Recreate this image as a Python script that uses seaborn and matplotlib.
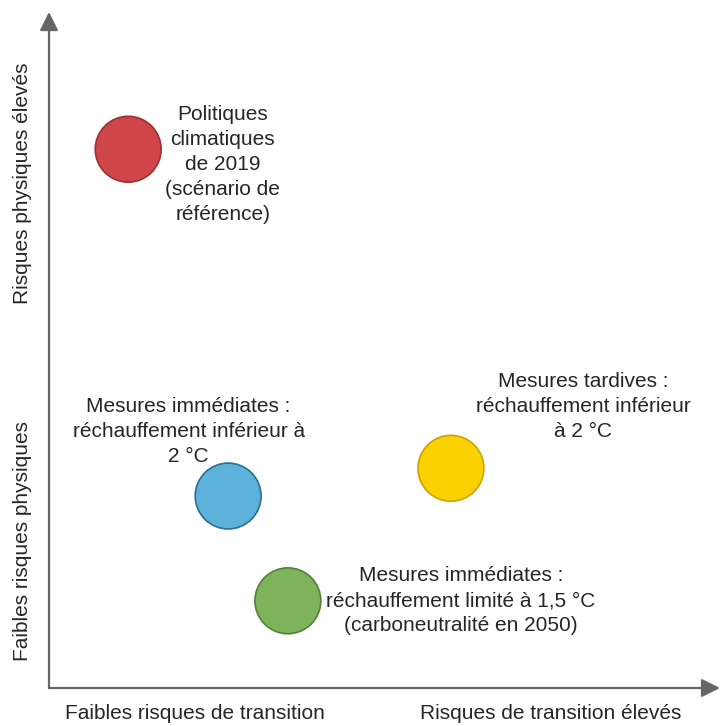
import matplotlib
matplotlib.use("Agg")
import matplotlib.pyplot as plt
import seaborn as sns
import pandas as pd

# ---- data ----
scenarios = [
    "Politiques\nclimatiques\nde 2019\n(scénario de\nréférence)",
    "Mesures immédiates :\nréchauffement inférieur à\n2 °C",
    "Mesures tardives :\nréchauffement inférieur\nà 2 °C",
    "Mesures immédiates :\nréchauffement limité à 1,5 °C\n(carboneutralité en 2050)",
]
transition_risk = [1.18, 2.67, 5.99, 3.56]
physical_risk = [7.97, 2.84, 3.25, 1.29]
fill_colors = ["#CF4548", "#5DB2DB", "#FDD100", "#7DB35A"]
edge_colors = ["#9E2F33", "#2C6E93", "#C9A400", "#557F3A"]
x_labels = ["Faibles risques de transition", "Risques de transition élevés"]
y_labels = ["Faibles risques physiques", "Risques physiques élevés"]

# label offsets (data units) relative to each point
label_dx = [1.41, -0.59, 1.97, 2.58]
label_dy = [-0.22, 0.95, 0.91, 0.0]

df = pd.DataFrame({"x": transition_risk, "y": physical_risk, "scenario": scenarios})

sns.set_style("white")
plt.rcParams["font.family"] = ["Liberation Sans", "DejaVu Sans"]

FS = 15
TXT = "#262626"

fig = plt.figure(figsize=(7.22, 7.26), dpi=100)
ax = fig.add_axes([49 / 722, 38 / 726, (720 - 49) / 722, (688 - 12) / 726])
ax.set_xlim(0, 10)
ax.set_ylim(0, 10)

sns.scatterplot(data=df, x="x", y="y", hue="scenario", palette=fill_colors,
                s=2250, edgecolor=edge_colors, linewidth=1.2, legend=False,
                ax=ax, zorder=3, clip_on=False)

for i, txt in enumerate(scenarios):
    ax.text(transition_risk[i] + label_dx[i], physical_risk[i] + label_dy[i], txt,
            ha="center", va="center", fontsize=FS, color=TXT,
            linespacing=1.4)

for s in ax.spines.values():
    s.set_visible(False)
ax.set_xticks([])
ax.set_yticks([])
ax.set_xlabel("")
ax.set_ylabel("")

axis_col = "#666666"
ax.annotate("", xy=(10, 0), xytext=(0, 0), xycoords="data",
            arrowprops=dict(arrowstyle="-|>", mutation_scale=28, color=axis_col,
                            lw=1.6, shrinkA=0, shrinkB=0), annotation_clip=False)
ax.annotate("", xy=(0, 10), xytext=(0, 0), xycoords="data",
            arrowprops=dict(arrowstyle="-|>", mutation_scale=28, color=axis_col,
                            lw=1.6, shrinkA=0, shrinkB=0), annotation_clip=False)

# axis end labels
ax.text(2.18, -0.38, x_labels[0], ha="center", va="center", fontsize=FS,
        color=TXT, clip_on=False)
ax.text(7.47, -0.38, x_labels[1], ha="center", va="center", fontsize=FS,
        color=TXT, clip_on=False)
ax.text(-0.40, 2.17, y_labels[0], ha="center", va="center", fontsize=FS,
        rotation=90, color=TXT, clip_on=False)
ax.text(-0.40, 7.47, y_labels[1], ha="center", va="center", fontsize=FS,
        rotation=90, color=TXT, clip_on=False)

fig.savefig("out.png", dpi=100, facecolor="white")
